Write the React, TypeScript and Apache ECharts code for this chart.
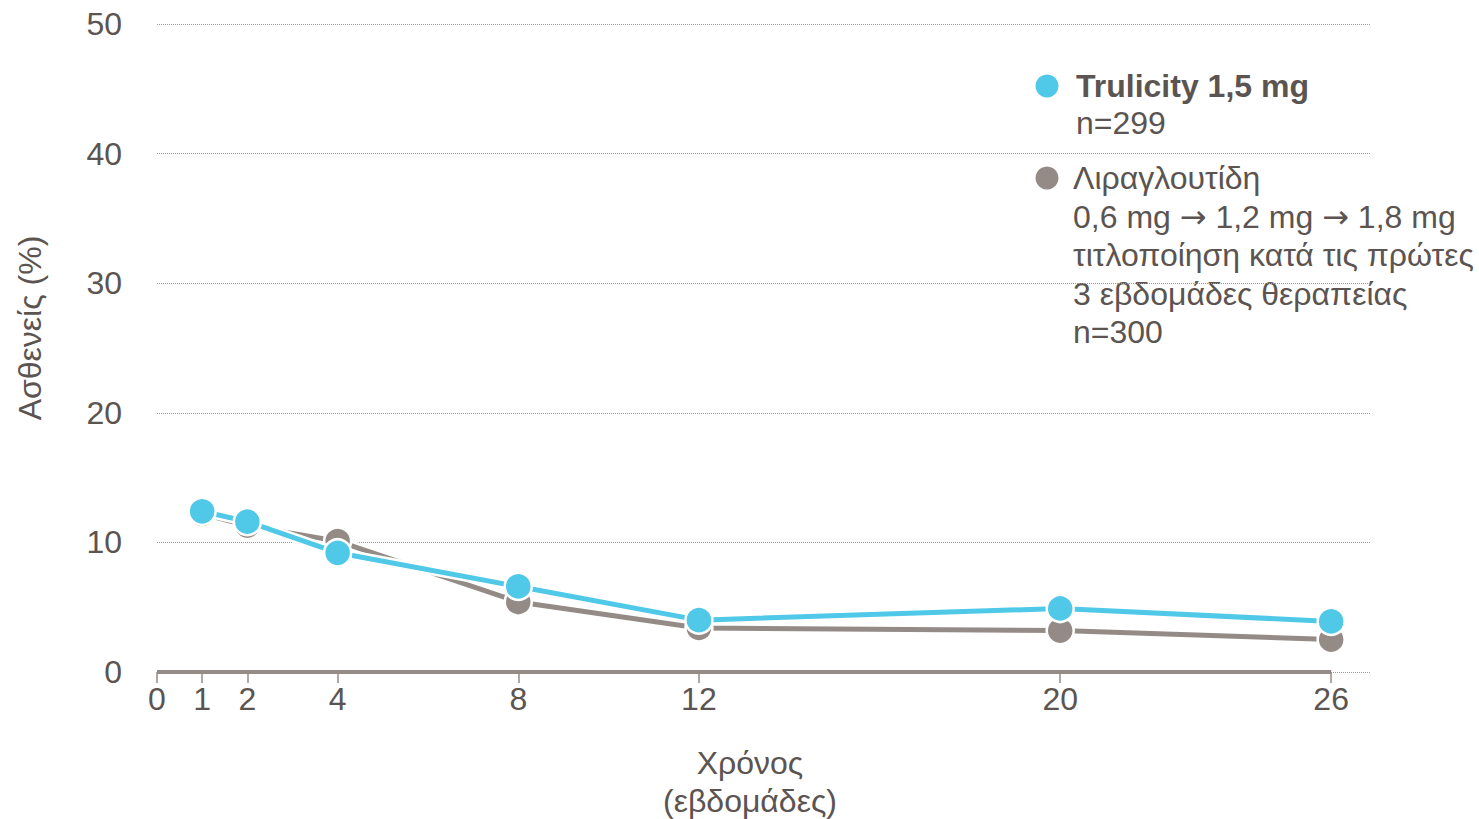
import React, { useEffect, useRef } from "react";
import * as echarts from "echarts";

const weeks = [1, 2, 4, 8, 12, 20, 26];
const trulicity = [12.4, 11.6, 9.2, 6.6, 4.0, 4.9, 3.9];
const liraglutide = [12.2, 11.3, 10.1, 5.4, 3.4, 3.2, 2.5];
const xTicks = [0, 1, 2, 4, 8, 12, 20, 26];
const yMax = 50;
const yStep = 10;

const BLUE = "#50C8E8";
const GRAY = "#948B87";
const TEXT = "#5B5451";
const FONT = "'Liberation Sans', Arial, sans-serif";

export default function App() {
  const ref = useRef<HTMLDivElement>(null);
  useEffect(() => {
    if (!ref.current) return;
    const chart = echarts.init(ref.current, undefined, { renderer: "svg" });
    const tData = weeks.map((w, i) => [w, trulicity[i]]);
    const lData = weeks.map((w, i) => [w, liraglutide[i]]);
    const fs = 32;
    const legendX = 1073;
    const lh = 38.5;
    chart.setOption({
      animation: false,
      backgroundColor: "#fff",
      grid: { left: 157, right: 109, top: 24, bottom: 147 },
      xAxis: {
        type: "value",
        min: 0,
        max: 26.86,
        axisLine: { show: false },
        splitLine: { show: false },
        axisTick: {
          show: true,
          customValues: xTicks,
          length: 11,
          lineStyle: { color: GRAY, width: 1.5 },
        },
        axisLabel: {
          customValues: xTicks,
          margin: 11,
          color: TEXT,
          fontSize: fs,
          fontFamily: FONT,
        },
      },
      yAxis: {
        type: "value",
        min: 0,
        max: yMax,
        interval: yStep,
        axisLine: { show: false },
        axisTick: { show: false },
        axisLabel: { margin: 35, color: TEXT, fontSize: fs, fontFamily: FONT },
        splitLine: { lineStyle: { type: "dotted", color: "#9a9a9a", width: 1 } },
      },
      series: [
        {
          type: "line",
          data: lData,
          symbol: "none",
          lineStyle: { color: "#fff", width: 10 },
          silent: true,
          z: 2,
          markLine: {
            silent: true,
            symbol: "none",
            label: { show: false },
            lineStyle: { color: GRAY, width: 4, type: "solid" },
            data: [[{ coord: [0, 0] }, { coord: [26, 0] }]],
          },
        },
        {
          name: "Λιραγλουτίδη",
          type: "line",
          data: lData,
          symbol: "circle",
          symbolSize: 27,
          lineStyle: { color: GRAY, width: 5 },
          itemStyle: { color: GRAY, borderColor: "#fff", borderWidth: 2.5 },
          z: 3,
        },
        {
          type: "line",
          data: tData,
          symbol: "none",
          lineStyle: { color: "#fff", width: 10 },
          silent: true,
          z: 4,
        },
        {
          name: "Trulicity 1,5 mg",
          type: "line",
          data: tData,
          symbol: "circle",
          symbolSize: 27,
          lineStyle: { color: BLUE, width: 5 },
          itemStyle: { color: BLUE, borderColor: "#fff", borderWidth: 2.5 },
          z: 5,
        },
      ],
      graphic: [
        {
          type: "text",
          x: 30,
          y: 328,
          rotation: Math.PI / 2,
          style: {
            text: "Ασθενείς (%)",
            fill: TEXT,
            fontSize: 32,
            fontFamily: FONT,
            align: "center",
            verticalAlign: "middle",
          },
        },
        {
          type: "text",
          x: 750,
          y: 782,
          style: {
            text: "Χρόνος\n(εβδομάδες)",
            fill: TEXT,
            fontSize: fs,
            fontFamily: FONT,
            align: "center",
            verticalAlign: "middle",
            lineHeight: 38,
          },
        },
        { type: "circle", shape: { cx: 1047, cy: 86, r: 11.5 }, style: { fill: BLUE } },
        { type: "circle", shape: { cx: 1047, cy: 178, r: 11.5 }, style: { fill: GRAY } },
        {
          type: "text",
          x: legendX + 3,
          y: 86,
          style: {
            text: "Trulicity 1,5 mg",
            fill: TEXT,
            fontSize: fs,
            fontWeight: "bold",
            fontFamily: FONT,
            verticalAlign: "middle",
          },
        },
        {
          type: "text",
          x: legendX + 3,
          y: 123,
          style: { text: "n=299", fill: TEXT, fontSize: fs, fontFamily: FONT, verticalAlign: "middle" },
        },
        {
          type: "text",
          x: legendX,
          y: 178 - lh / 2,
          style: {
            text:
              "Λιραγλουτίδη\n0,6 mg {a|→} 1,2 mg {a|→} 1,8 mg\nτιτλοποίηση κατά τις πρώτες\n3 εβδομάδες θεραπείας\nn=300",
            fill: TEXT,
            fontSize: fs,
            fontFamily: FONT,
            lineHeight: lh,
            verticalAlign: "top",
            rich: {
              a: {
                fontFamily: "'DejaVu Sans', sans-serif",
                fontSize: 32,
                fill: TEXT,
                lineHeight: lh,
              },
            },
          },
        },
      ],
    });
    return () => chart.dispose();
  }, []);
  return (
    <div
      ref={ref}
      style={{ position: "fixed", left: 0, top: 0, width: 1479, height: 819 }}
    />
  );
}
